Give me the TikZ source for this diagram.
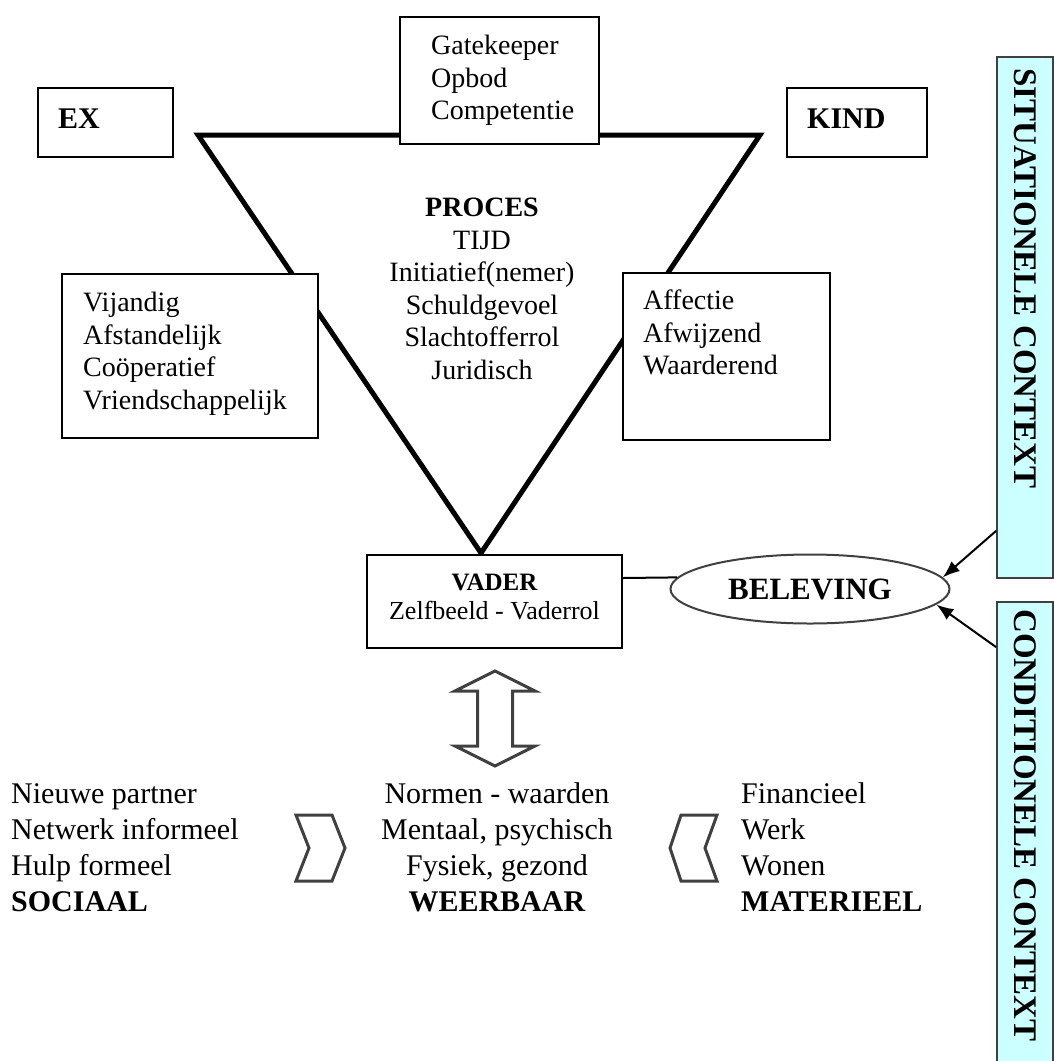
\documentclass[tikz,border=0pt]{standalone}
\usepackage{fontspec}
\setmainfont{Liberation Serif}
\usetikzlibrary{arrows.meta,shapes.geometric}
\definecolor{sidecyan}{HTML}{CCFFFF}
\definecolor{outl}{HTML}{404040}
\begin{document}
\begin{tikzpicture}[x=1pt,y=-1pt,
  txt/.style={inner sep=0pt, font=\fontsize{28}{32.5}\selectfont},
  bottxt/.style={inner sep=0pt, font=\fontsize{30}{36}\selectfont},
  bigb/.style={inner sep=0pt, font=\fontsize{30}{34}\selectfont\bfseries},
  sidetxt/.style={inner sep=0pt, font=\fontsize{33}{36}\selectfont\bfseries, rotate=-90, anchor=west},
  rbox/.style={draw=black, line width=2pt, inner sep=0pt},
  sidebox/.style={draw=outl, line width=1.8pt, fill=sidecyan, inner sep=0pt},
  thin/.style={draw=black, line width=2pt},
  arr/.style={draw=black, line width=2pt, -{Latex[length=17pt,width=13pt]}},
  outlshape/.style={draw=outl, line width=3pt, line join=miter}
]
\useasboundingbox (0,0) rectangle (1054,1061);

% triangle
\coordinate (tl) at (198,135);
\coordinate (tr) at (760,135);
\coordinate (tb) at (481,553);
\draw[line width=5pt, line join=miter] (tl) -- (tr) -- (tb) -- cycle;

% boxes
\node[rbox, fill=white, minimum width=199pt, minimum height=127pt] (topb) at (499.5,80.5) {};
\node[txt, anchor=north west, align=left] (toptxt) at (431,32) {\strut Gatekeeper\\Opbod\\Competentie};

\node[rbox, minimum width=135pt, minimum height=69pt] (ex) at (105.5,122.5) {};
\node[bigb, anchor=base west] (extxt) at (58,128) {EX};
\node[rbox, minimum width=140pt, minimum height=69pt] (kind) at (856.5,122.5) {};
\node[bigb, anchor=base west] (kindtxt) at (807,128) {KIND};

\node[txt, anchor=north, align=center] (proces) at (482,194) {\strut\textbf{PROCES}\\TIJD\\Initiatief(nemer)\\Schuldgevoel\\Slachtofferrol\\Juridisch};

\node[rbox, fill=white, minimum width=256pt, minimum height=164pt] (leftb) at (190,356) {};
\node[txt, anchor=north west, align=left] (lefttxt) at (83,289) {\strut Vijandig\\Afstandelijk\\Coöperatief\\Vriendschappelijk};

\node[rbox, fill=white, minimum width=207pt, minimum height=167pt] (rightb) at (726.5,356.5) {};
\node[txt, anchor=north west, align=left] (righttxt) at (643,287) {\strut Affectie\\Afwijzend\\Waarderend};

% vader
\node[rbox, fill=white, minimum width=255pt, minimum height=93pt] (vader) at (494.5,601.5) {};
\node[inner sep=0pt, font=\fontsize{25}{29}\selectfont\bfseries, anchor=base] (vadert) at (494.5,590) {VADER};
\node[inner sep=0pt, font=\fontsize{26}{29}\selectfont, anchor=base] (vadersub) at (494.5,619) {Zelfbeeld - Vaderrol};

% beleving
\node[draw=outl, line width=2pt, ellipse, minimum width=279pt, minimum height=69pt, inner sep=0pt, font=\fontsize{31}{34}\selectfont\bfseries] (bel) at (810,589) {BELEVING};
\draw[thin] ([yshift=23.5pt]vader.east) -- (bel.175);

% side boxes
\node[sidebox, minimum width=56pt, minimum height=521pt] (sit) at (1025,317.5) {};
\node[sidetxt] (sittxt) at (1025,68) {SITUATIONELE CONTEXT};
\node[sidebox, minimum width=56pt, minimum height=480pt] (cond) at (1025,842) {};
\node[sidetxt] (condtxt) at (1025,609) {CONDITIONELE CONTEXT};

\coordinate (s1) at ([yshift=48pt]sit.south west);
\coordinate (c1) at ([yshift=-46pt]cond.north west);
\draw[arr] (s1) -- (bel.5);
\draw[arr] (c1) -- (bel.-7);

% double arrow
\draw[outlshape] (495,671) -- (535,691) -- (512.5,691) -- (512.5,746) -- (535,746) -- (495,766)
  -- (455,746) -- (477.5,746) -- (477.5,691) -- (455,691) -- cycle;

% chevrons
\draw[outlshape] (296,815) -- (332,815) -- (345,848) -- (332,881) -- (296,881) -- (309,848) -- cycle;
\draw[outlshape] (717,815) -- (681,815) -- (670,848) -- (681,881) -- (717,881) -- (705,848) -- cycle;

% bottom texts
\node[bottxt, anchor=north west, align=left] (soc) at (11,778) {\strut Nieuwe partner\\Netwerk informeel\\Hulp formeel\\\textbf{SOCIAAL}};
\node[bottxt, anchor=north, align=center] (weer) at (497,778) {\strut Normen - waarden\\Mentaal, psychisch\\Fysiek, gezond\\\textbf{WEERBAAR}};
\node[bottxt, anchor=north west, align=left] (mat) at (741,778) {\strut Financieel\\Werk\\Wonen\\\textbf{MATERIEEL}};

\end{tikzpicture}
\end{document}
